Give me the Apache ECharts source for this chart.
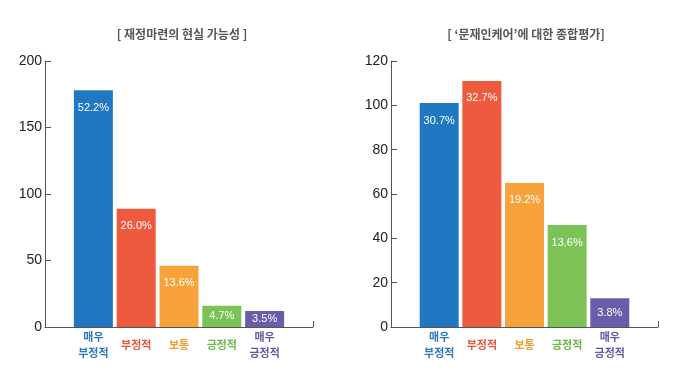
<!DOCTYPE html>
<html>
<head>
<meta charset="utf-8">
<script src="https://cdn.jsdelivr.net/npm/echarts@6/dist/echarts.min.js"></script>
<style>html,body{margin:0;padding:0;background:#fff}#c{width:680px;height:380px}</style>
</head>
<body>
<div id="c"></div>
<script>
var categories = ['매우\n부정적', '부정적', '보통', '긍정적', '매우\n긍정적'];
var colors = ['#1f78c1', '#ee5a3e', '#f7a23a', '#7cc257', '#6a5ca8'];
var labelColors = ['#2a78bd', '#e6563b', '#f39c32', '#6cb64a', '#6657a3'];

var title1 = '[ 재정마련의 현실 가능성 ]';
var values1 = [178, 89, 46, 16, 12];
var pct1 = ['52.2%', '26.0%', '13.6%', '4.7%', '3.5%'];
var yTicks1 = { min: 0, max: 200, interval: 50 };

var title2 = '[ ‘문재인케어’에 대한 종합평가]';
var values2 = [101, 111, 65, 46, 13];
var pct2 = ['30.7%', '32.7%', '19.2%', '13.6%', '3.8%'];
var yTicks2 = { min: 0, max: 120, interval: 20 };

var xMin = -1.13, xMax = 5.13;
var numFont = 'Liberation Sans, Arial, sans-serif';
var korFont = 'Noto Sans CJK KR, sans-serif';

function makeX(gi) {
  return {
    type: 'value', gridIndex: gi, min: xMin, max: xMax,
    splitLine: { show: false },
    axisLine: { show: true, onZero: false, lineStyle: { color: '#555', width: 1 } },
    axisTick: { show: true, inside: true, length: 6, customValues: [xMax], lineStyle: { color: '#555' } },
    axisLabel: {
      show: true, customValues: [0, 1, 2, 3, 4], margin: 18, verticalAlign: 'middle',
      fontFamily: korFont, fontSize: 11, fontWeight: 'bold', lineHeight: 16,
      formatter: function (v) { return categories[Math.round(v)]; },
      color: function (v) { return labelColors[Math.round(v)]; }
    }
  };
}
function makeY(gi, t) {
  return {
    type: 'value', gridIndex: gi, min: t.min, max: t.max, interval: t.interval,
    splitLine: { show: false },
    axisLine: { show: true, onZero: false, lineStyle: { color: '#555', width: 1 } },
    axisTick: { show: true, inside: true, length: 6, lineStyle: { color: '#555' } },
    axisLabel: { color: '#222', fontSize: 14, fontFamily: numFont, margin: 3 }
  };
}
function makeSeries(gi, vals, pcts, t) {
  return {
    type: 'bar', xAxisIndex: gi, yAxisIndex: gi, barWidth: 39,
    data: vals.map(function (v, i) {
      var small = v / t.max < 0.15;
      return {
        value: [i, v], itemStyle: { color: colors[i] },
        label: small ? { position: 'inside' } : { position: 'insideTop', distance: 12 }
      };
    }),
    label: {
      show: true, color: '#fff',
      fontFamily: numFont, fontSize: 11,
      formatter: function (p) { return pcts[p.dataIndex]; }
    }
  };
}

var chart = echarts.init(document.getElementById('c'), null, { renderer: 'canvas' });
chart.setOption({
  animation: false,
  backgroundColor: '#fff',
  title: [
    { text: title1, left: 177, top: 23, textAlign: 'center',
      textStyle: { fontFamily: korFont, fontSize: 12, fontWeight: 'bold', color: '#555' } },
    { text: title2, left: 521, top: 23, textAlign: 'center',
      textStyle: { fontFamily: korFont, fontSize: 12, fontWeight: 'bold', color: '#555' } }
  ],
  grid: [
    { left: 45, right: 367, top: 61, bottom: 53 },
    { left: 391, right: 22, top: 61, bottom: 53 }
  ],
  xAxis: [makeX(0), makeX(1)],
  yAxis: [makeY(0, yTicks1), makeY(1, yTicks2)],
  series: [makeSeries(0, values1, pct1, yTicks1), makeSeries(1, values2, pct2, yTicks2)]
});
</script>
</body>
</html>
